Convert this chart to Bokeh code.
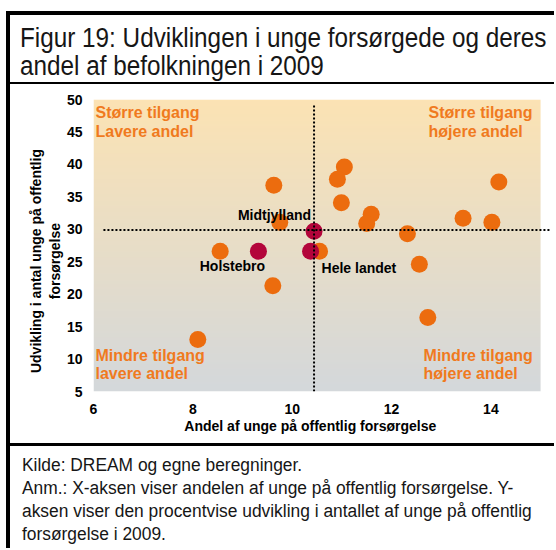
import numpy as np
from bokeh.plotting import figure
from bokeh.models import Range1d, FixedTicker, Div
from bokeh.layouts import row, column
from bokeh.embed import file_html
from bokeh.resources import INLINE
from bokeh.core.properties import value

# ---------------- data ----------------
orange_x = [9.63, 9.75, 8.55, 9.61, 8.10, 11.05, 10.91, 14.16, 10.99, 11.59,
            11.50, 13.44, 14.02, 12.32, 10.55, 12.56, 12.73]
orange_y = [36.8, 31.1, 26.6, 21.3, 13.0, 39.6, 37.7, 37.3, 34.1, 32.3,
            30.9, 31.7, 31.1, 29.3, 26.6, 24.6, 16.4]
red_names = ["Holstebro", "Midtjylland", "Hele landet"]
red_x = [9.32, 10.44, 10.37]
red_y = [26.6, 29.7, 26.6]
ref_x = 10.44
ref_y = 29.9
hline_x = [6.2, 15.2]
vline_y = [5.0, 49.2]
x_ticks = [6, 8, 10, 12, 14]
y_ticks = [5, 10, 15, 20, 25, 30, 35, 40, 45, 50]
area_x = [6, 15]      # plot area (shaded) extent
area_y = [5, 50]
quad_top = ["Større tilgang", "Større tilgang"]
quad_top2 = ["Lavere andel", "højere andel"]
quad_bot = ["Mindre tilgang", "Mindre tilgang"]
quad_bot2 = ["lavere andel", "højere andel"]

title_lines = ["Figur 19: Udviklingen i unge forsørgede og deres",
               "andel af befolkningen i 2009"]
footer_lines = [
    "Kilde: DREAM og egne beregninger.",
    "Anm.: X-aksen viser andelen af unge på offentlig forsørgelse. Y-",
    "aksen viser den procentvise udvikling i antallet af unge på offentlig",
    "forsørgelse i 2009.",
]
x_title = "Andel af unge på offentlig forsørgelse"
y_title = ["Udvikling i antal unge på offentlig", "forsørgelse"]

# ---------------- styles ----------------
ORANGE = "#EC6C0E"
RED = "#B3053B"
QTXT = "#F07A1E"
FONT = "Liberation Sans"
NB = "\u00a0"

TOTAL_W = 554
FIG_W = 544
FIG_H = 359

p = figure(width=FIG_W, height=FIG_H, output_backend="svg", toolbar_location=None,
           x_range=Range1d(area_x[0], 15.2), y_range=Range1d(area_y[0], area_y[1]),
           min_border_left=83, min_border_right=4, min_border_top=15,
           min_border_bottom=52)
p.outline_line_color = None
p.grid.grid_line_color = None
p.background_fill_color = "white"
p.border_fill_color = "white"

# gradient background of the plot area
top = np.array([252, 227, 180])
bot = np.array([212, 216, 219])
n = 120
t = np.linspace(0, 1, n)[:, None]
cols = (bot + (top - bot) * t).astype(np.uint8)
img = np.empty((n, 1), dtype=np.uint32)
view = img.view(dtype=np.uint8).reshape((n, 1, 4))
view[:, 0, 0] = cols[:, 0]
view[:, 0, 1] = cols[:, 1]
view[:, 0, 2] = cols[:, 2]
view[:, 0, 3] = 255
p.image_rgba(image=[img], x=area_x[0], y=area_y[0],
             dw=area_x[1] - area_x[0], dh=area_y[1] - area_y[0], level="image")

# points
p.scatter(orange_x, orange_y, size=17, fill_color=ORANGE, line_color=None)
p.scatter(red_x, red_y, size=17, fill_color=RED, line_color=None)

# reference lines
p.line(hline_x, [ref_y, ref_y], line_color="black", line_width=2, line_dash="2 2")
p.line([ref_x, ref_x], vline_y, line_color="black", line_width=2, line_dash="2 2")

# point labels
lab_dx = [-26, -3, 11]
lab_dy = [15, -16, 17]
lab_align = ["center", "right", "left"]
p.text(x=red_x, y=red_y, text=red_names, x_offset=lab_dx, y_offset=lab_dy,
       text_align=lab_align, text_baseline="middle",
       text_font=value(FONT), text_font_style="bold", text_font_size="14px",
       text_color="black")

# quadrant texts
x0, x1 = area_x
y0, y1 = area_y
qstyle = dict(text_baseline="middle", text_align="left", text_font=value(FONT),
              text_font_style="bold", text_font_size="16px", text_color=QTXT)
p.text(x=[x0, x1], y=[y1, y1], text=quad_top, x_offset=[2, -112], y_offset=[13, 13], **qstyle)
p.text(x=[x0, x1], y=[y1, y1], text=quad_top2, x_offset=[2, -112], y_offset=[32, 32], **qstyle)
p.text(x=[x0, x1], y=[y0, y0], text=quad_bot, x_offset=[2, -117], y_offset=[-36, -36], **qstyle)
p.text(x=[x0, x1], y=[y0, y0], text=quad_bot2, x_offset=[2, -117], y_offset=[-18, -18], **qstyle)

# axes
for ax in (p.xaxis, p.yaxis):
    ax.axis_line_color = None
    ax.major_tick_line_color = None
    ax.minor_tick_line_color = None
    ax.major_tick_out = 0
    ax.major_tick_in = 0
    ax.minor_tick_out = 0
    ax.major_label_text_font = FONT
    ax.major_label_text_font_style = "bold"
    ax.major_label_text_font_size = "14px"
    ax.major_label_text_color = "black"
    ax.axis_label_text_font = FONT
    ax.axis_label_text_font_style = "bold"
    ax.axis_label_text_font_size = "14px"
    ax.axis_label_text_color = "black"
p.xaxis.ticker = FixedTicker(ticks=x_ticks)
p.yaxis.ticker = FixedTicker(ticks=y_ticks)
p.xaxis.major_label_standoff = 12
p.yaxis.major_label_standoff = 11
p.xaxis.axis_label = x_title + NB * 6
p.yaxis.axis_label = "\n".join(s + NB * 8 for s in y_title)
p.xaxis.axis_label_standoff = 1
p.yaxis.axis_label_standoff = 1

# ---------------- frame / texts around the chart ----------------
def svg_text(x, y, s, size, sx):
    return (f'<text transform="translate({x},{y}) scale({sx},1)" font-family="{FONT}" '
            f'font-size="{size}" fill="#161616">{s}</text>')

title_svg = (f'<svg xmlns="http://www.w3.org/2000/svg" width="{TOTAL_W}" height="84" style="display:block">'
             f'<rect x="6" y="11" width="{TOTAL_W - 6}" height="4" fill="black"/>'
             f'<rect x="6" y="11" width="4" height="73" fill="black"/>'
             f'<rect x="10" y="82" width="{TOTAL_W - 10}" height="2" fill="black"/>'
             + svg_text(20, 47, title_lines[0], 27, 0.9)
             + svg_text(20, 75, title_lines[1], 27, 0.9)
             + '</svg>')
title = Div(text=title_svg, width=TOTAL_W, height=84, margin=0)

bar_svg = (f'<svg xmlns="http://www.w3.org/2000/svg" width="10" height="{FIG_H}" style="display:block">'
           f'<rect x="6" y="0" width="4" height="{FIG_H}" fill="black"/></svg>')
leftbar = Div(text=bar_svg, width=10, height=FIG_H, margin=0)

FOOT_H = 105
foot_svg = (f'<svg xmlns="http://www.w3.org/2000/svg" width="{TOTAL_W}" height="{FOOT_H}" style="display:block">'
            f'<rect x="6" y="0" width="4" height="{FOOT_H}" fill="black"/>'
            f'<rect x="10" y="0" width="{TOTAL_W - 10}" height="3" fill="black"/>'
            + "".join(svg_text(22, 28 + 23 * i, s, 19, 0.915) for i, s in enumerate(footer_lines))
            + '</svg>')
footer = Div(text=foot_svg, width=TOTAL_W, height=FOOT_H, margin=0)

middle = row(leftbar, p, spacing=0, margin=0)
layout = column(title, middle, footer, spacing=0, margin=0)

open("out.html", "w").write(file_html(layout, INLINE))
